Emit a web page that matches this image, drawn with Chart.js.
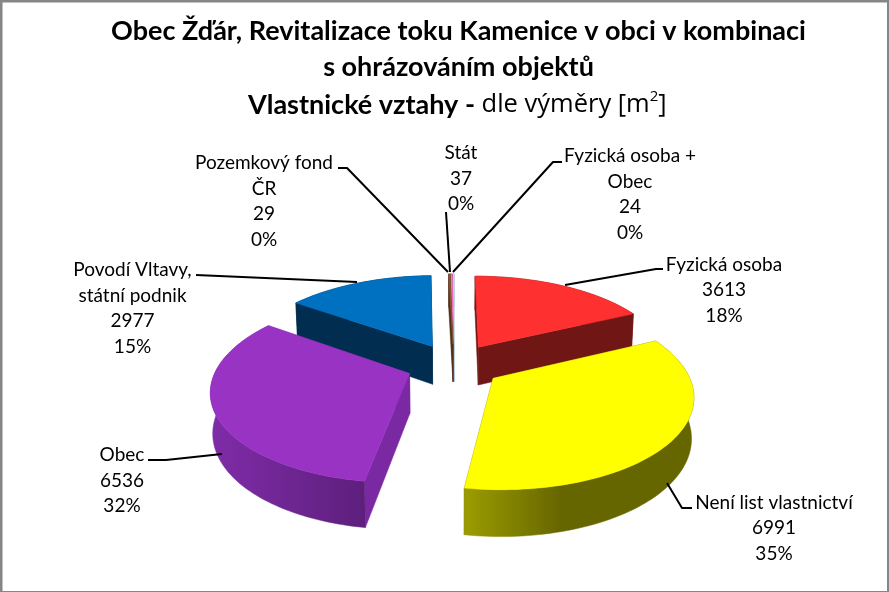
<!DOCTYPE html>
<html>
<head>
<meta charset="utf-8">
<script src="https://cdn.jsdelivr.net/npm/chart.js@4/dist/chart.umd.min.js"></script>
<style>
html, body { margin: 0; padding: 0; background: #fff; }
canvas { display: block; }
</style>
</head>
<body>
<canvas id="myChart" width="889" height="592"></canvas>
<script>
// data
const categories = ['Fyzická osoba', 'Není list vlastnictví', 'Obec', 'Povodí Vltavy, státní podnik', 'Pozemkový fond ČR', 'Stát', 'Fyzická osoba + Obec'];
const values = [3613, 6991, 6536, 2977, 29, 37, 24];
const percents = ['18%', '35%', '32%', '15%', '0%', '0%', '0%'];
const labelNames = [['Fyzická osoba'], ['Není list vlastnictví'], ['Obec'], ['Povodí Vltavy,', 'státní podnik'], ['Pozemkový fond', 'ČR'], ['Stát'], ['Fyzická osoba +', 'Obec']];

// colours
const topColors = ['#ff3030', '#ffff00', '#9933c4', '#0070c0', '#8a5a30', '#ff70c8', '#b8dcf8'];
const wallColors = ['#701614', '#666600', '#7b28a3', '#002d50', '#50301a', '#a04080', '#7090b0'];
const rimStops = [null, [['0', '#9c9c00'], ['0.42', '#666600'], ['1', '#666600']], [['0', '#7f2ca8'], ['1', '#5e1f7c']], null, null, null, null];

// label placement: x centre, y of first line, leader line
const labelX = [724, 774, 122, 132.5, 264, 461, 630];
const labelY = [264.5, 502.5, 455, 270, 163, 153, 156];
const leaders = [
    [[565, 285], [656, 269], [663, 269]],
    [[667, 483], [682, 508], [692, 508]],
    [[222, 454], [166, 460], [148, 460]],
    [[357, 282], [196, 275]],
    [[448, 272], [347, 168], [338, 168]],
    [[450, 272], [446, 212]],
    [[453, 272], [553, 162], [562, 162]]
];

const LINE_H = 25.5;
const LABEL_FONT = '19px Lato, "Open Sans", sans-serif';
const TITLE_FONT = 'bold 27px Lato, sans-serif';

// 3d look: the pie plane is seen from above, so y is squashed and the front is bigger
const X_SCALE = 0.95;
const Y_SCALE = 0.436;
const PERSPECTIVE = 0.165;
const DEPTH = 39;
const BOTTOM_SHRINK = 0.99;

function project(el, u, v, low) {
    let f = 1 / (1 - PERSPECTIVE * v);
    let r = el.outerRadius;
    let sx = X_SCALE * r * u * f;
    let sy = Y_SCALE * r * v * f;
    if (low) {
        sx = sx * BOTTOM_SHRINK;
        sy = sy * BOTTOM_SHRINK + DEPTH * f;
    }
    return [el.x + sx, el.y + sy];
}

function slicePoints(el) {
    let mid = (el.startAngle + el.endAngle) / 2;
    let e = el.options.offset / el.outerRadius;
    let ax = e * Math.cos(mid);
    let ay = e * Math.sin(mid);
    let rim = [];
    let steps = Math.max(2, Math.ceil((el.endAngle - el.startAngle) * 40));
    for (let i = 0; i <= steps; i++) {
        let a = el.startAngle + (el.endAngle - el.startAngle) * i / steps;
        rim.push([ax + Math.cos(a), ay + Math.sin(a)]);
    }
    return { apex: [ax, ay], rim: rim };
}

function fillPoly(ctx, pts, color) {
    ctx.beginPath();
    pts.forEach((p, i) => i ? ctx.lineTo(p[0], p[1]) : ctx.moveTo(p[0], p[1]));
    ctx.closePath();
    ctx.fillStyle = color;
    ctx.fill();
    // thin stroke closes hairline seams
    ctx.strokeStyle = color;
    ctx.lineWidth = 0.5;
    ctx.stroke();
}

function drawSlice(ctx, el, i) {
    let s = slicePoints(el);
    let up = p => project(el, p[0], p[1], false);
    let down = p => project(el, p[0], p[1], true);
    let first = s.rim[0];
    let last = s.rim[s.rim.length - 1];

    // walls along the two cuts
    fillPoly(ctx, [up(s.apex), up(first), down(first), down(s.apex)], wallColors[i]);
    fillPoly(ctx, [up(s.apex), up(last), down(last), down(s.apex)], wallColors[i]);

    // outer wall
    let wall = s.rim.map(up).concat(s.rim.slice().reverse().map(down));
    let fill = wallColors[i];
    if (rimStops[i]) {
        let xs = wall.map(p => p[0]);
        let g = ctx.createLinearGradient(Math.min(...xs), 0, Math.max(...xs), 0);
        rimStops[i].forEach(st => g.addColorStop(+st[0], st[1]));
        fill = g;
    }
    fillPoly(ctx, wall, fill);

    // top face
    fillPoly(ctx, [up(s.apex)].concat(s.rim.map(up)), topColors[i]);
}

const pie3d = {
    id: 'pie3d',
    beforeDraw(chart) {
        let ctx = chart.ctx;
        ctx.save();
        ctx.fillStyle = '#ffffff';
        ctx.fillRect(0, 0, chart.width, chart.height);
        ctx.restore();
    },
    beforeDatasetDraw(chart) {
        let ctx = chart.ctx;
        let arcs = chart.getDatasetMeta(0).data;
        // back slices first
        let order = arcs.map((el, i) => i).sort((a, b) => {
            let ma = (arcs[a].startAngle + arcs[a].endAngle) / 2;
            let mb = (arcs[b].startAngle + arcs[b].endAngle) / 2;
            return Math.sin(ma) - Math.sin(mb);
        });
        ctx.save();
        order.forEach(i => drawSlice(ctx, arcs[i], i));
        ctx.restore();
        return false;
    },
    afterDraw(chart) {
        let ctx = chart.ctx;
        ctx.save();

        // leader lines
        ctx.strokeStyle = '#000000';
        ctx.lineWidth = 2;
        ctx.lineJoin = 'round';
        leaders.forEach(line => {
            ctx.beginPath();
            line.forEach((p, i) => i ? ctx.lineTo(p[0], p[1]) : ctx.moveTo(p[0], p[1]));
            ctx.stroke();
        });

        // data labels
        ctx.fillStyle = '#000000';
        ctx.font = LABEL_FONT;
        ctx.textAlign = 'center';
        ctx.textBaseline = 'middle';
        categories.forEach((c, i) => {
            let lines = labelNames[i].concat([String(values[i]), percents[i]]);
            lines.forEach((t, j) => ctx.fillText(t, labelX[i], labelY[i] + j * LINE_H));
        });

        // title
        ctx.font = TITLE_FONT;
        ctx.fillText('Obec Žďár, Revitalizace toku Kamenice v obci v kombinaci', 458.5, 31);
        ctx.fillText('s ohrázováním objektů', 458.5, 67);

        // third title line mixes weights and a superscript
        ctx.textAlign = 'left';
        let x = 248;
        ctx.fillText('Vlastnické vztahy - ', x, 105);
        x += ctx.measureText('Vlastnické vztahy - ').width;
        ctx.font = '25.5px "Open Sans", sans-serif';
        ctx.fillText('dle výměry [m', x, 105);
        x += ctx.measureText('dle výměry [m').width;
        ctx.font = '15px "Open Sans", sans-serif';
        ctx.fillText('2', x, 97);
        x += ctx.measureText('2').width;
        ctx.font = '25.5px "Open Sans", sans-serif';
        ctx.fillText(']', x, 105);

        // frame, thicker on top and left
        ctx.fillStyle = '#868686';
        ctx.fillRect(0, 0, chart.width, 2.5);
        ctx.fillRect(0, 0, 2.5, chart.height);
        ctx.fillRect(chart.width - 2, 0, 2, chart.height);
        ctx.fillRect(0, chart.height - 1, chart.width, 1);
        ctx.restore();
    }
};

let myChart = new Chart(document.getElementById('myChart').getContext('2d'), {
    type: 'pie',
    plugins: [pie3d],
    data: {
        labels: categories,
        datasets: [{
            data: values,
            backgroundColor: topColors,
            borderWidth: 0,
            offset: 50
        }]
    },
    options: {
        responsive: false,
        animation: false,
        layout: { padding: { left: 19, right: 0, top: 138, bottom: 0 } },
        plugins: {
            legend: { display: false },
            title: { display: false },
            tooltip: { enabled: false }
        }
    }
});
</script>
</body>
</html>
